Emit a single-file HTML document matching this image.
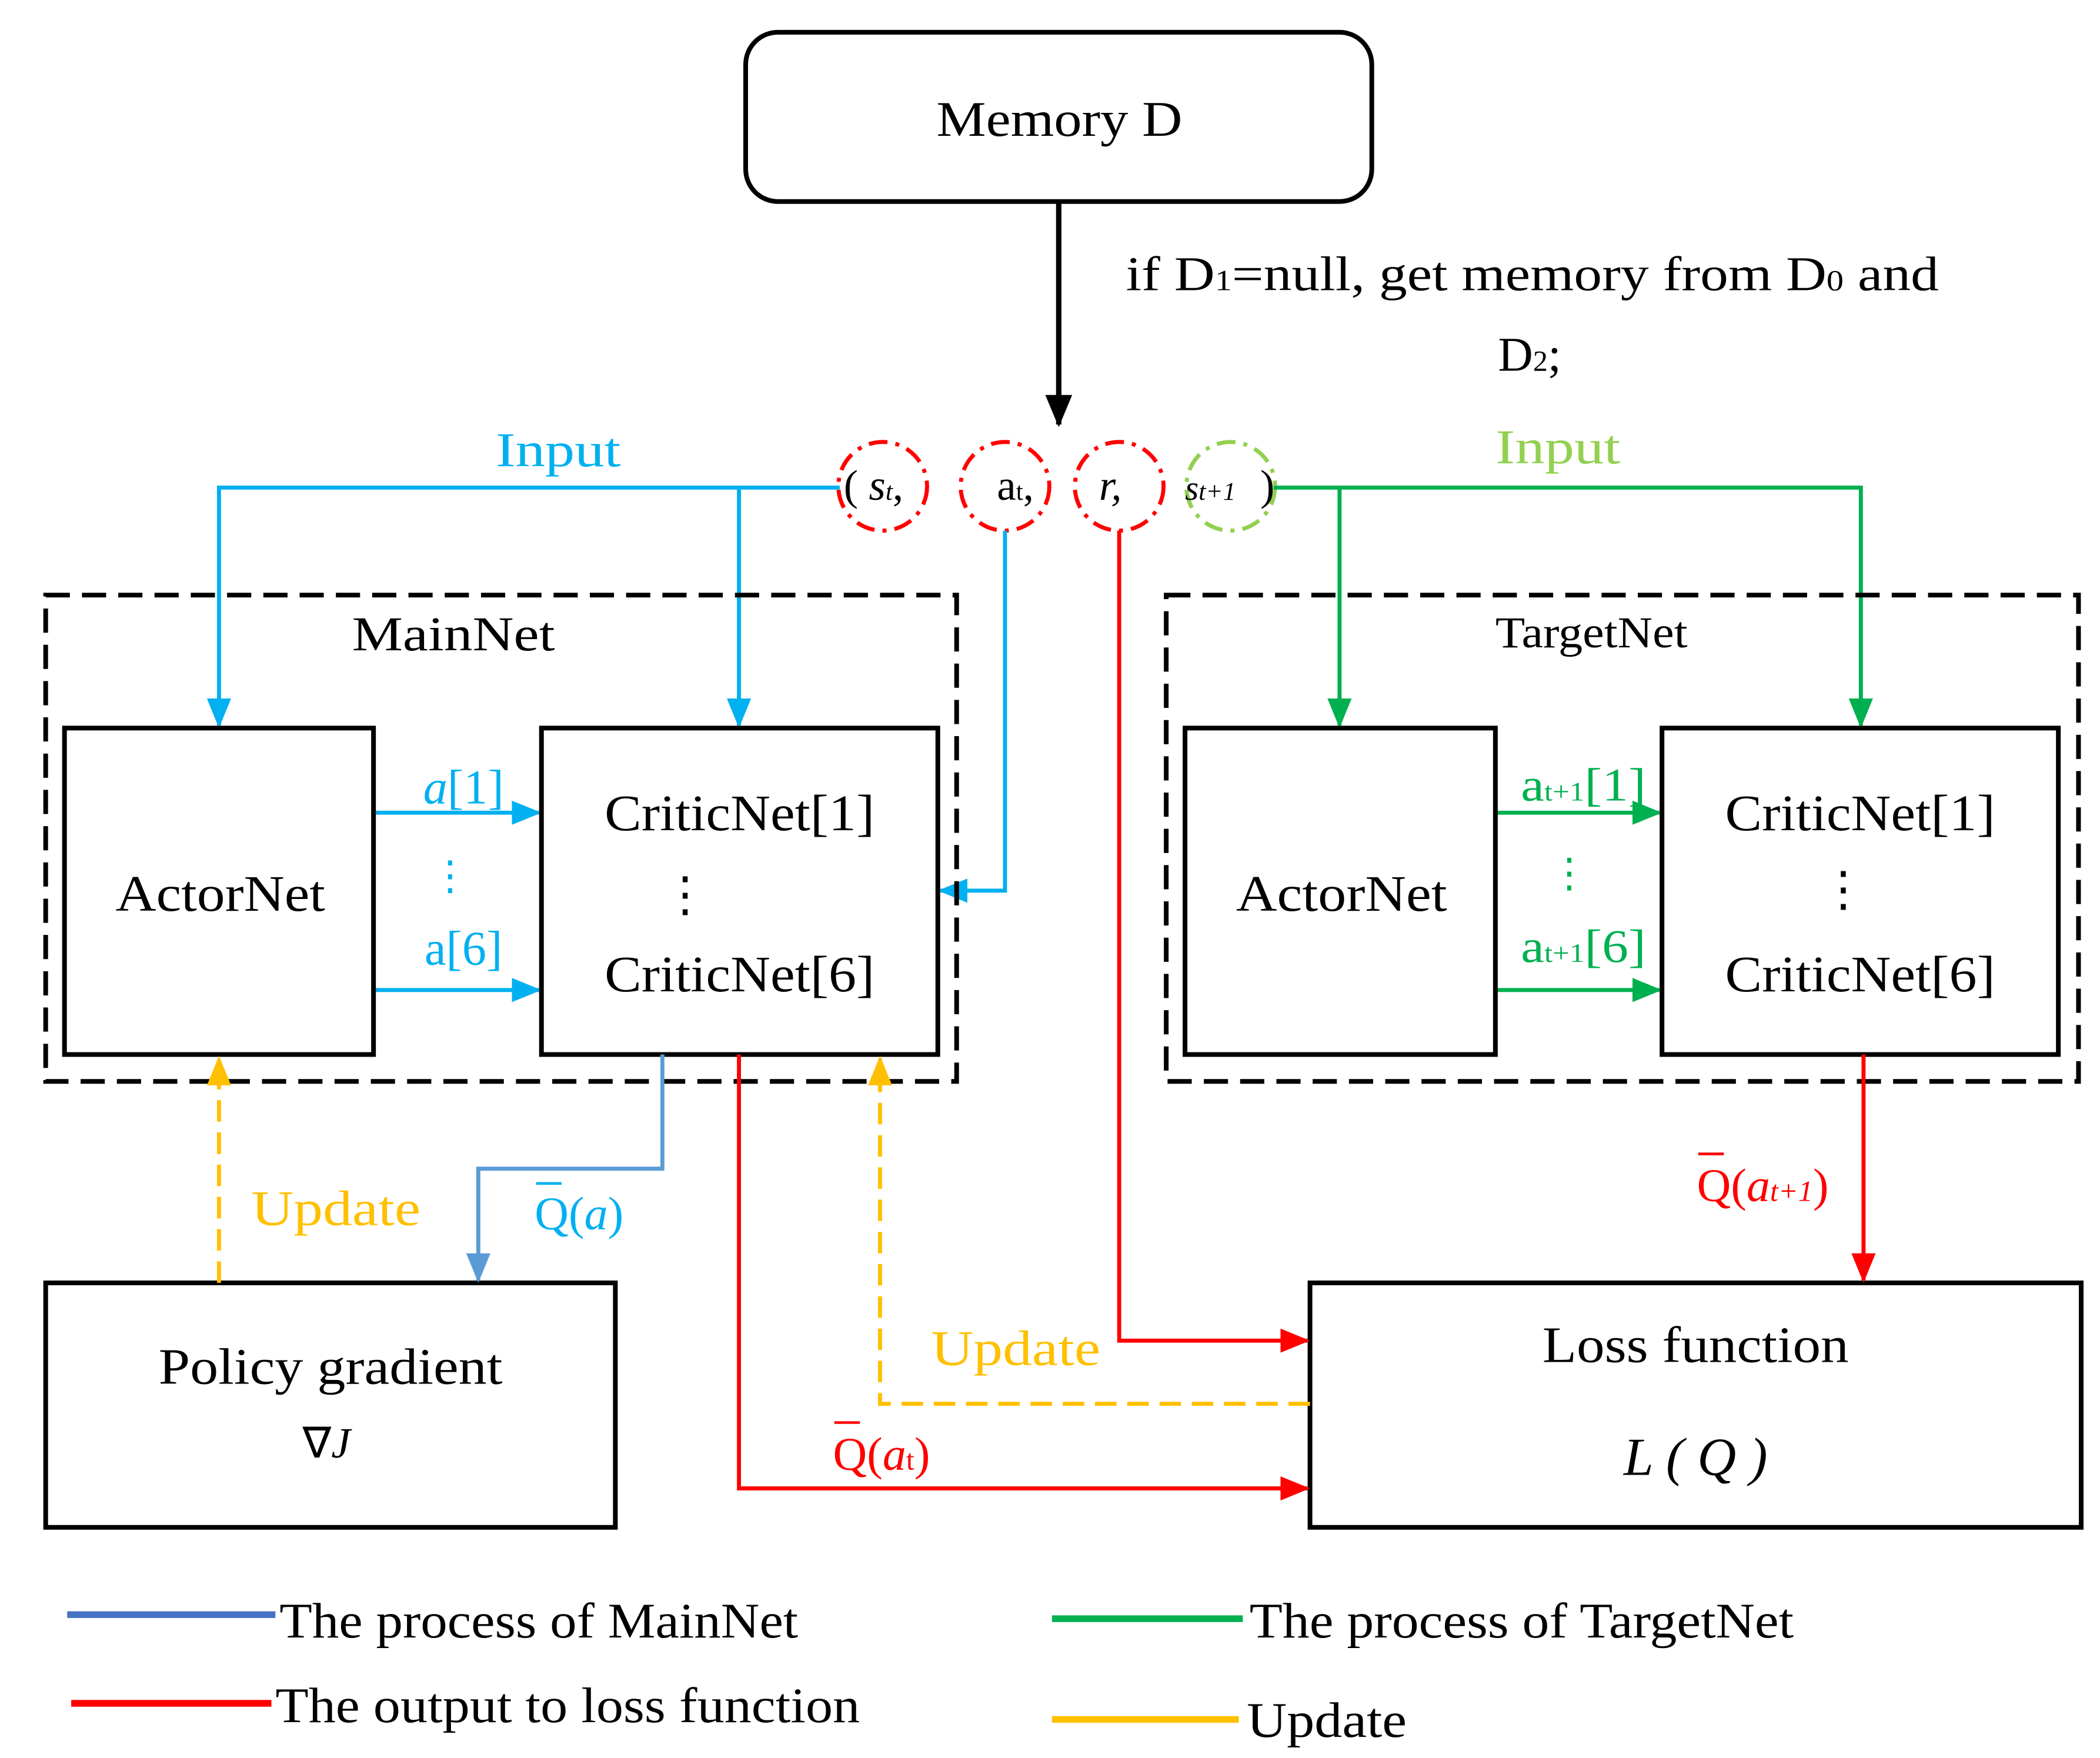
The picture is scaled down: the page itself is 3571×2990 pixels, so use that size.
<!DOCTYPE html>
<html><head><meta charset="utf-8"><style>
html,body{margin:0;padding:0;background:#fff;}
svg{display:block;}
text{font-family:"Liberation Serif",serif;}
</style></head><body>
<svg width="3571" height="2990" viewBox="0 0 1563 1308.7" preserveAspectRatio="none" xmlns="http://www.w3.org/2000/svg">
<defs>
<marker id="ab" markerWidth="22" markerHeight="22" refX="20" refY="11" orient="auto" markerUnits="userSpaceOnUse"><path d="M0,2 L22,11 L0,20z" fill="#00b0f0"/></marker>
<marker id="ab2" markerWidth="22" markerHeight="22" refX="20" refY="11" orient="auto" markerUnits="userSpaceOnUse"><path d="M0,2 L22,11 L0,20z" fill="#5b9bd5"/></marker>
<marker id="ag" markerWidth="22" markerHeight="22" refX="20" refY="11" orient="auto" markerUnits="userSpaceOnUse"><path d="M0,2 L22,11 L0,20z" fill="#00b050"/></marker>
<marker id="ar" markerWidth="22" markerHeight="22" refX="20" refY="11" orient="auto" markerUnits="userSpaceOnUse"><path d="M0,2 L22,11 L0,20z" fill="#ff0000"/></marker>
<marker id="ay" markerWidth="22" markerHeight="22" refX="20" refY="11" orient="auto" markerUnits="userSpaceOnUse"><path d="M0,2 L22,11 L0,20z" fill="#ffc000"/></marker>
<marker id="aK" markerWidth="24" markerHeight="24" refX="22" refY="12" orient="auto" markerUnits="userSpaceOnUse"><path d="M0,2 L24,12 L0,22z" fill="#000"/></marker>
</defs>

<rect x="555" y="24" width="466" height="126" rx="24" fill="none" stroke="#000" stroke-width="3.5"/>
<text x="697" y="101" font-size="37" textLength="183" lengthAdjust="spacingAndGlyphs">Memory D</text>
<line x1="788" y1="150" x2="788" y2="316" stroke="#000" stroke-width="4" marker-end="url(#aK)"/>
<text x="838" y="216" font-size="36" textLength="605" lengthAdjust="spacingAndGlyphs">if D<tspan font-size="22">1</tspan>=null, get memory from D<tspan font-size="22">0</tspan> and</text>
<text x="1115" y="276" font-size="36">D<tspan font-size="22">2</tspan>;</text>

<g fill="none" stroke-width="3" stroke-dasharray="14,6,3,6">
<circle cx="657" cy="362" r="33" stroke="#ff0000"/>
<circle cx="748" cy="362" r="33" stroke="#ff0000"/>
<circle cx="833" cy="362" r="33" stroke="#ff0000"/>
<circle cx="916" cy="362" r="33" stroke="#92d050"/>
</g>
<text x="628" y="372" font-size="32">( <tspan font-style="italic">s</tspan><tspan font-size="19" font-style="italic">t</tspan>,</text>
<text x="742" y="372" font-size="32">a<tspan font-size="19">t</tspan>,</text>
<text x="818" y="372" font-size="32" font-style="italic">r,</text>
<text x="882" y="372" font-size="26" font-style="italic">s<tspan font-size="19">t+1</tspan></text>
<text x="938" y="372" font-size="32">)</text>

<text x="369" y="347" font-size="36" fill="#00b0f0" textLength="93" lengthAdjust="spacingAndGlyphs">Input</text>
<g stroke="#00b0f0" stroke-width="3" fill="none">
<polyline points="625,363 163,363 163,540" marker-end="url(#ab)"/>
<line x1="550" y1="363" x2="550" y2="540" marker-end="url(#ab)"/>
<polyline points="748,395 748,663 700,663" marker-end="url(#ab)"/>
<line x1="278" y1="605" x2="401" y2="605" marker-end="url(#ab)"/>
<line x1="278" y1="737" x2="401" y2="737" marker-end="url(#ab)"/>
</g>
<text x="345" y="598" font-size="36" fill="#00b0f0" text-anchor="middle"><tspan font-style="italic">a</tspan>[1]</text>
<text x="335" y="662" font-size="30" fill="#00b0f0" text-anchor="middle">⋮</text>
<text x="345" y="718" font-size="36" fill="#00b0f0" text-anchor="middle">a[6]</text>

<text x="1113" y="345" font-size="36" fill="#92d050" textLength="93" lengthAdjust="spacingAndGlyphs">Input</text>
<g stroke="#00b050" stroke-width="3" fill="none">
<polyline points="948,363 1385,363 1385,540" marker-end="url(#ag)"/>
<line x1="997" y1="363" x2="997" y2="540" marker-end="url(#ag)"/>
<line x1="1113" y1="605" x2="1235" y2="605" marker-end="url(#ag)"/>
<line x1="1113" y1="737" x2="1235" y2="737" marker-end="url(#ag)"/>
</g>
<text x="1132" y="596" font-size="35" fill="#00b050" textLength="93" lengthAdjust="spacingAndGlyphs">a<tspan font-size="20">t+1</tspan>[1]</text>
<text x="1168" y="660" font-size="30" fill="#00b050" text-anchor="middle">⋮</text>
<text x="1132" y="716" font-size="35" fill="#00b050" textLength="93" lengthAdjust="spacingAndGlyphs">a<tspan font-size="20">t+1</tspan>[6]</text>

<g fill="none" stroke="#000" stroke-width="3.5" stroke-dasharray="18,9">
<rect x="34" y="443" width="678" height="362"/>
<rect x="868" y="443" width="679" height="362"/>
</g>
<text x="262" y="484" font-size="36" textLength="151" lengthAdjust="spacingAndGlyphs">MainNet</text>
<text x="1113" y="482" font-size="33" textLength="143" lengthAdjust="spacingAndGlyphs">TargetNet</text>

<g fill="#fff" stroke="#000" stroke-width="3.5">
<rect x="48" y="542" width="230" height="243"/>
<rect x="403" y="542" width="295" height="243"/>
<rect x="882" y="542" width="231" height="243"/>
<rect x="1237" y="542" width="295" height="243"/>
<rect x="34" y="955" width="424" height="182"/>
<rect x="975" y="955" width="574" height="182"/>
</g>
<text x="86" y="678" font-size="38" textLength="156" lengthAdjust="spacingAndGlyphs">ActorNet</text>
<text x="450" y="618" font-size="38" textLength="201" lengthAdjust="spacingAndGlyphs">CriticNet[1]</text>
<text x="510" y="678" font-size="36" text-anchor="middle">⋮</text>
<text x="450" y="738" font-size="38" textLength="201" lengthAdjust="spacingAndGlyphs">CriticNet[6]</text>
<text x="920" y="678" font-size="38" textLength="157" lengthAdjust="spacingAndGlyphs">ActorNet</text>
<text x="1284" y="618" font-size="38" textLength="201" lengthAdjust="spacingAndGlyphs">CriticNet[1]</text>
<text x="1372" y="674" font-size="36" text-anchor="middle">⋮</text>
<text x="1284" y="738" font-size="38" textLength="201" lengthAdjust="spacingAndGlyphs">CriticNet[6]</text>
<text x="118" y="1030" font-size="38" textLength="256" lengthAdjust="spacingAndGlyphs">Policy gradient</text>
<text x="243" y="1085" font-size="32" text-anchor="middle">∇<tspan font-style="italic">J</tspan></text>
<text x="1148" y="1014" font-size="38" textLength="228" lengthAdjust="spacingAndGlyphs">Loss function</text>
<text x="1262" y="1098" font-size="40" text-anchor="middle" font-style="italic">L ( Q )</text>

<polyline points="493,785 493,870 356,870 356,953" fill="none" stroke="#5b9bd5" stroke-width="3" marker-end="url(#ab2)"/>
<text x="398" y="915" font-size="35" fill="#00b0f0">Q(<tspan font-style="italic">a</tspan>)</text>
<line x1="399" y1="881" x2="418" y2="881" stroke="#00b0f0" stroke-width="2"/>

<g stroke="#ffc000" stroke-width="3" fill="none" stroke-dasharray="16,8">
<line x1="163" y1="955" x2="163" y2="788" marker-end="url(#ay)"/>
<polyline points="975,1045 655,1045 655,788" marker-end="url(#ay)"/>
</g>
<text x="187" y="912" font-size="37" fill="#ffc000" textLength="126" lengthAdjust="spacingAndGlyphs">Update</text>
<text x="693" y="1016" font-size="37" fill="#ffc000" textLength="126" lengthAdjust="spacingAndGlyphs">Update</text>

<g stroke="#ff0000" stroke-width="3" fill="none">
<polyline points="550,785 550,1108 973,1108" marker-end="url(#ar)"/>
<polyline points="833,395 833,998 973,998" marker-end="url(#ar)"/>
<line x1="1387" y1="785" x2="1387" y2="953" marker-end="url(#ar)"/>
</g>
<text x="620" y="1094" font-size="35" fill="#ff0000">Q(<tspan font-style="italic">a</tspan><tspan font-size="22">t</tspan>)</text>
<line x1="621" y1="1059" x2="640" y2="1059" stroke="#ff0000" stroke-width="2"/>
<text x="1263" y="894" font-size="35" fill="#ff0000">Q(<tspan font-style="italic">a</tspan><tspan font-size="22" font-style="italic">t+1</tspan>)</text>
<line x1="1264" y1="859" x2="1283" y2="859" stroke="#ff0000" stroke-width="2"/>

<line x1="50" y1="1202" x2="205" y2="1202" stroke="#4472c4" stroke-width="5"/>
<text x="208" y="1219" font-size="37" textLength="386" lengthAdjust="spacingAndGlyphs">The process of MainNet</text>
<line x1="53" y1="1268" x2="202" y2="1268" stroke="#ff0000" stroke-width="5"/>
<text x="205" y="1282" font-size="37" textLength="435" lengthAdjust="spacingAndGlyphs">The output to loss function</text>
<line x1="783" y1="1205" x2="925" y2="1205" stroke="#00b050" stroke-width="5"/>
<text x="930" y="1219" font-size="37" textLength="405" lengthAdjust="spacingAndGlyphs">The process of TargetNet</text>
<line x1="783" y1="1280" x2="922" y2="1280" stroke="#ffc000" stroke-width="5"/>
<text x="928" y="1293" font-size="37" textLength="119" lengthAdjust="spacingAndGlyphs">Update</text>
</svg>
</body></html>
